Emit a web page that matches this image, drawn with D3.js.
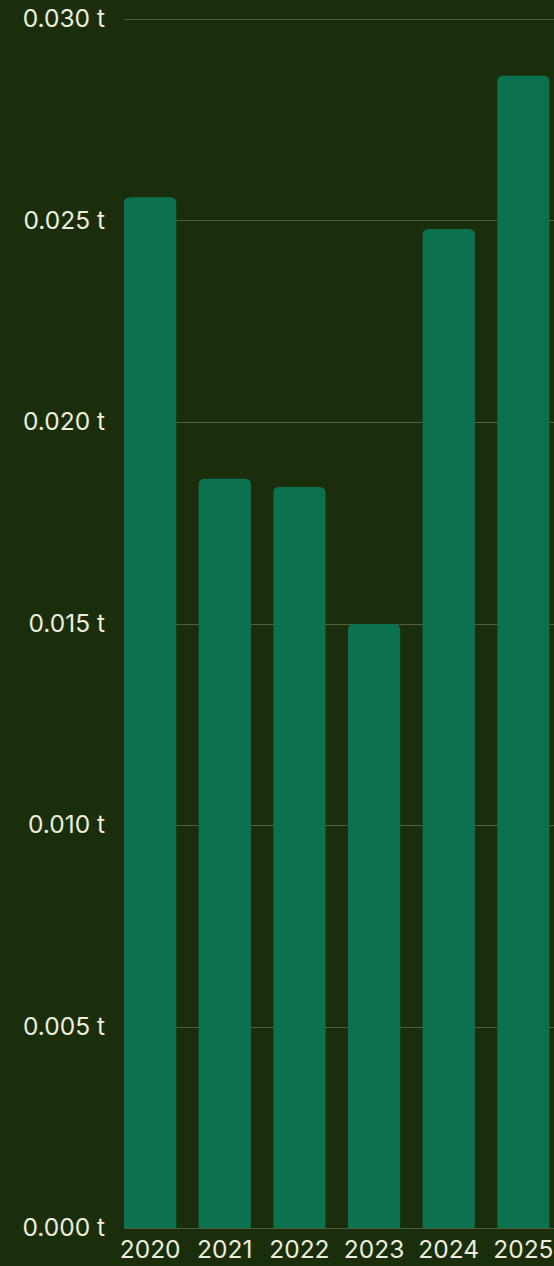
<!DOCTYPE html>
<html>
<head>
<meta charset="utf-8">
<script src="https://cdn.jsdelivr.net/npm/d3@7"></script>
<style>
  html, body { margin: 0; padding: 0; background: #1b2e0c; }
  svg { display: block; }
</style>
</head>
<body>
<svg id="chart" width="554" height="1266"></svg>
<script>
// Annual amounts, in tonnes
const years = ["2020", "2021", "2022", "2023", "2024", "2025"];
const amounts = [0.02558, 0.01859, 0.01839, 0.01499, 0.02479, 0.02859];
const yTicks = [0, 0.005, 0.010, 0.015, 0.020, 0.025, 0.030];

const width = 554, height = 1266;
const margin = { top: 19, right: 4.5, bottom: 38, left: 124 };
const fontFamily = "Inter, 'Open Sans', sans-serif";
const fontSize = 24.5;
const textColor = "#eceedd";

const svg = d3.select("#chart");

const x = d3.scaleBand()
  .domain(years)
  .range([margin.left, width - margin.right])
  .paddingInner(0.3)
  .paddingOuter(0);

const y = d3.scaleLinear()
  .domain([0, 0.030])
  .range([height - margin.bottom, margin.top]);

// Horizontal gridlines
svg.append("g")
  .selectAll("line")
  .data(yTicks)
  .join("line")
  .attr("x1", margin.left)
  .attr("x2", width)
  .attr("y1", d => Math.round(y(d)) + 0.5)
  .attr("y2", d => Math.round(y(d)) + 0.5)
  .attr("stroke", "#4d5f3f")
  .attr("stroke-width", 1);

// Y-axis labels
const yAxis = d3.axisLeft(y)
  .tickValues(yTicks)
  .tickSize(0)
  .tickPadding(0)
  .tickFormat(d => d3.format(".3f")(d) + " t");

svg.append("g")
  .attr("transform", `translate(105,0)`)
  .call(yAxis)
  .call(g => g.select(".domain").remove())
  .call(g => g.selectAll("text")
    .attr("fill", textColor)
    .attr("font-family", fontFamily)
    .attr("font-size", fontSize));

// Bars with rounded top corners
const r = 6;
function barPath(x0, w, yTop, yBase) {
  const rr = Math.min(r, (yBase - yTop) / 2, w / 2);
  return `M${x0},${yBase}V${yTop + rr}Q${x0},${yTop} ${x0 + rr},${yTop}` +
         `H${x0 + w - rr}Q${x0 + w},${yTop} ${x0 + w},${yTop + rr}V${yBase}Z`;
}

svg.append("g")
  .selectAll("path")
  .data(years.map((yr, i) => ({ yr, v: amounts[i] })))
  .join("path")
  .attr("fill", "#0b714f")
  .attr("d", d => barPath(x(d.yr), x.bandwidth(), y(d.v), y(0)));

// X-axis labels
const xAxis = d3.axisBottom(x).tickSize(0).tickPadding(0);
svg.append("g")
  .attr("transform", `translate(0,${y(0) + 13})`)
  .call(xAxis)
  .call(g => g.select(".domain").remove())
  .call(g => g.selectAll("text")
    .attr("fill", textColor)
    .attr("font-family", fontFamily)
    .attr("font-size", fontSize));
</script>
</body>
</html>
